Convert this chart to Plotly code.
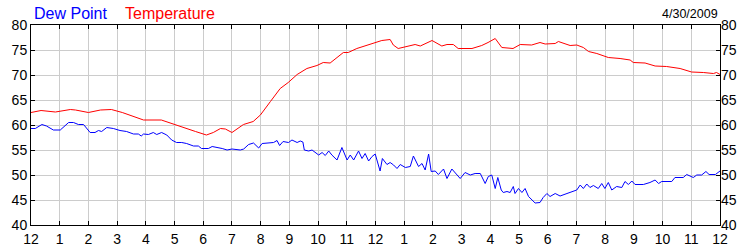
import plotly.graph_objects as go

# hours after midnight (0 = 12 AM, 24 = 12 AM next day)
temp_hours = [0, 0.35, 0.85, 1.37, 1.55, 2.0, 2.42, 2.8, 3.18, 3.92, 4.54, 5.03, 5.38, 5.73,
              6.11, 6.35, 6.6, 6.77, 7.0, 7.4, 7.74, 7.99, 8.34, 8.68, 8.96, 9.27, 9.61, 9.96,
              10.18, 10.42, 10.88, 11.05, 11.35, 11.7, 11.92, 12.22, 12.51, 12.62, 12.79, 13.14,
              13.38, 13.56, 13.79, 13.97, 14.31, 14.49, 14.71, 14.88, 15.36, 15.7, 15.92, 16.17,
              16.4, 16.79, 17.04, 17.44, 17.73, 17.91, 18.26, 18.37, 18.78, 19.01, 19.24, 19.42,
              19.71, 20.11, 20.52, 20.87, 20.98, 21.39, 21.74, 22.14, 22.61, 23.01, 23.42, 23.77,
              23.88, 24.0]
temperature = [62.5, 62.9, 62.6, 63.1, 63.0, 62.5, 63.0, 63.1, 62.5, 61.0, 61.0, 60.1, 59.5, 58.7,
               58.0, 58.5, 59.3, 59.2, 58.5, 60.1, 60.7, 62.0, 64.7, 67.3, 68.5, 70.1, 71.3, 71.9,
               72.5, 72.4, 74.5, 74.5, 75.3, 76.0, 76.3, 76.9, 77.1, 76.0, 75.3, 75.7,
               76.1, 75.8, 76.5, 76.9, 75.8, 76.1, 76.1, 75.3, 75.3, 75.9, 76.5, 77.3,
               75.5, 75.3, 76.1, 76.0, 76.5, 76.2, 76.3, 76.7, 75.9, 76.0, 75.5, 74.7,
               74.3, 73.5, 73.3, 73.0, 72.5, 72.4, 71.8, 71.7, 71.3, 70.6, 70.5, 70.3,
               70.5, 70.1]

dew_hours = [0, 0.15, 0.38, 0.54, 0.78, 1.02, 1.31, 1.48, 1.65, 1.83, 2.06, 2.23, 2.35, 2.46,
             2.64, 2.87, 3.1, 3.33, 3.57, 3.74, 3.84, 3.92, 4.09, 4.26, 4.38, 4.55, 4.73, 4.9,
             5.07, 5.25, 5.42, 5.66, 5.83, 5.94, 6.18, 6.31, 6.66, 6.83, 7.0, 7.12, 7.29, 7.41,
             7.58, 7.75, 7.93, 8.05, 8.28, 8.45, 8.57, 8.66, 8.78, 8.97, 9.09, 9.27, 9.38, 9.47,
             9.52, 9.67, 9.79, 9.9, 10.02, 10.14, 10.25, 10.37, 10.48, 10.66, 10.83, 11.01, 11.12,
             11.24, 11.41, 11.53, 11.64, 11.76, 11.88, 11.99, 12.16, 12.24, 12.4, 12.51, 12.63,
             12.75, 12.86, 13.04, 13.21, 13.32, 13.5, 13.62, 13.73, 13.85, 13.94, 14.08, 14.19,
             14.37, 14.49, 14.66, 14.83, 14.95, 15.12, 15.3, 15.47, 15.65, 15.82, 15.93, 16.05,
             16.17, 16.26, 16.38, 16.45, 16.58, 16.69, 16.8, 16.86, 16.98, 17.1, 17.21, 17.33,
             17.44, 17.56, 17.73, 17.84, 17.97, 18.08, 18.26, 18.43, 18.67, 19.01, 19.13, 19.24,
             19.36, 19.47, 19.59, 19.76, 19.88, 19.99, 20.11, 20.23, 20.4, 20.58, 20.69, 20.81,
             20.93, 21.04, 21.33, 21.56, 21.74, 21.86, 21.97, 22.32, 22.43, 22.72, 22.84, 23.07,
             23.19, 23.36, 23.51, 23.62, 23.84, 24.0]
dew_point = [59.3, 59.3, 60.1, 59.8, 59.0, 59.0, 60.5, 60.5, 60.1, 60.1, 58.5, 58.5, 58.9, 58.7,
             59.5, 59.3, 58.9, 58.7, 58.2, 58.2, 57.8, 58.2, 58.1, 58.5, 58.1, 58.5, 58.0, 57.0,
             56.5, 56.5, 56.3, 55.8, 55.8, 55.3, 55.3, 55.7, 55.3, 55.0, 55.2, 55.1, 55.0, 55.2,
             56.1, 56.4, 55.4, 56.3, 56.4, 56.5, 56.9, 55.9, 56.7, 56.5, 57.0, 56.5, 56.8, 56.6,
             55.0, 54.8, 55.0, 54.5, 54.0, 54.5, 53.9, 54.8, 54.0, 53.0, 55.5, 53.0, 54.0,
             53.0, 54.8, 53.3, 54.3, 52.8, 53.7, 54.2, 50.8, 53.3, 52.1, 52.5, 52.0,
             51.3, 52.1, 51.5, 51.7, 53.8, 51.7, 52.3, 51.0, 54.2, 50.7, 50.8, 50.1,
             51.2, 49.3, 51.2, 50.2, 49.3, 50.5, 50.0, 50.3, 50.3, 48.3, 49.7, 50.0,
             47.3, 49.5, 47.0, 46.5, 46.7, 46.5, 47.7, 46.3, 47.3, 46.5, 47.3, 45.7,
             45.0, 44.4, 44.5, 45.5, 46.3, 45.7, 46.3, 45.8, 46.3, 47.0, 48.0, 47.3,
             48.2, 47.5, 47.9, 47.3, 48.3, 47.3, 48.5, 47.0, 47.7, 47.5, 48.7, 48.1,
             48.8, 48.1, 48.1, 48.5, 49.0, 48.3, 48.7, 48.7, 49.5, 49.5, 50.1, 49.5,
             50.0, 50.0, 50.7, 50.1, 50.1, 50.8]

x_tick_vals = list(range(0, 25))
x_tick_text = ["12", "1", "2", "3", "4", "5", "6", "7", "8", "9", "10", "11",
               "12", "1", "2", "3", "4", "5", "6", "7", "8", "9", "10", "11", "12"]
y_tick_vals = [40, 45, 50, 55, 60, 65, 70, 75, 80]

FONT = "Liberation Sans, Arial, sans-serif"

fig = go.Figure()
fig.add_trace(go.Scatter(x=temp_hours, y=temperature, mode="lines",
                         line=dict(color="#ff0000", width=1), name="Temperature"))
fig.add_trace(go.Scatter(x=dew_hours, y=dew_point, mode="lines",
                         line=dict(color="#0000ff", width=1), name="Dew Point"))
fig.add_trace(go.Scatter(x=[None], y=[None], yaxis="y2", showlegend=False, hoverinfo="skip"))

fig.update_layout(
    width=750, height=250,
    margin=dict(l=31, r=30, t=25, b=25, pad=0),
    paper_bgcolor="white", plot_bgcolor="white",
    showlegend=False,
    font=dict(family=FONT, size=14, color="#000"),
    xaxis=dict(range=[0, 24], tickvals=x_tick_vals, ticktext=x_tick_text,
               showgrid=True, gridcolor="#cccccc", gridwidth=1,
               showline=True, linecolor="#000", linewidth=1, mirror="ticks",
               ticks="inside", ticklen=4, tickcolor="#000", zeroline=False,
               ticklabelstandoff=1, automargin=False,
               tickfont=dict(size=14, family=FONT, color="#000")),
    yaxis=dict(range=[40, 80], tickvals=y_tick_vals,
               showgrid=True, gridcolor="#cccccc", gridwidth=1,
               showline=True, linecolor="#000", linewidth=1, mirror="ticks",
               ticks="inside", ticklen=4, tickcolor="#000", zeroline=False,
               automargin=False,
               tickfont=dict(size=14, family=FONT, color="#000")),
    yaxis2=dict(range=[40, 80], tickvals=y_tick_vals, overlaying="y", side="right",
                showgrid=False, showline=False, ticks="", zeroline=False,
                automargin=False,
                tickfont=dict(size=14, family=FONT, color="#000")),
    annotations=[
        dict(text="Dew Point", xref="paper", yref="paper", x=0, y=1, xshift=1, yshift=1,
             xanchor="left", yanchor="bottom", showarrow=False,
             font=dict(size=16, color="#0000ff", family=FONT)),
        dict(text="Temperature", xref="paper", yref="paper", x=0, y=1, xshift=92, yshift=1,
             xanchor="left", yanchor="bottom", showarrow=False,
             font=dict(size=16, color="#ff0000", family=FONT)),
        dict(text="4/30/2009", xref="paper", yref="paper", x=1, y=1, xshift=0, yshift=2,
             xanchor="right", yanchor="bottom", showarrow=False,
             font=dict(size=12.5, color="#000", family=FONT)),
    ],
)

fig.write_html("out.html")
